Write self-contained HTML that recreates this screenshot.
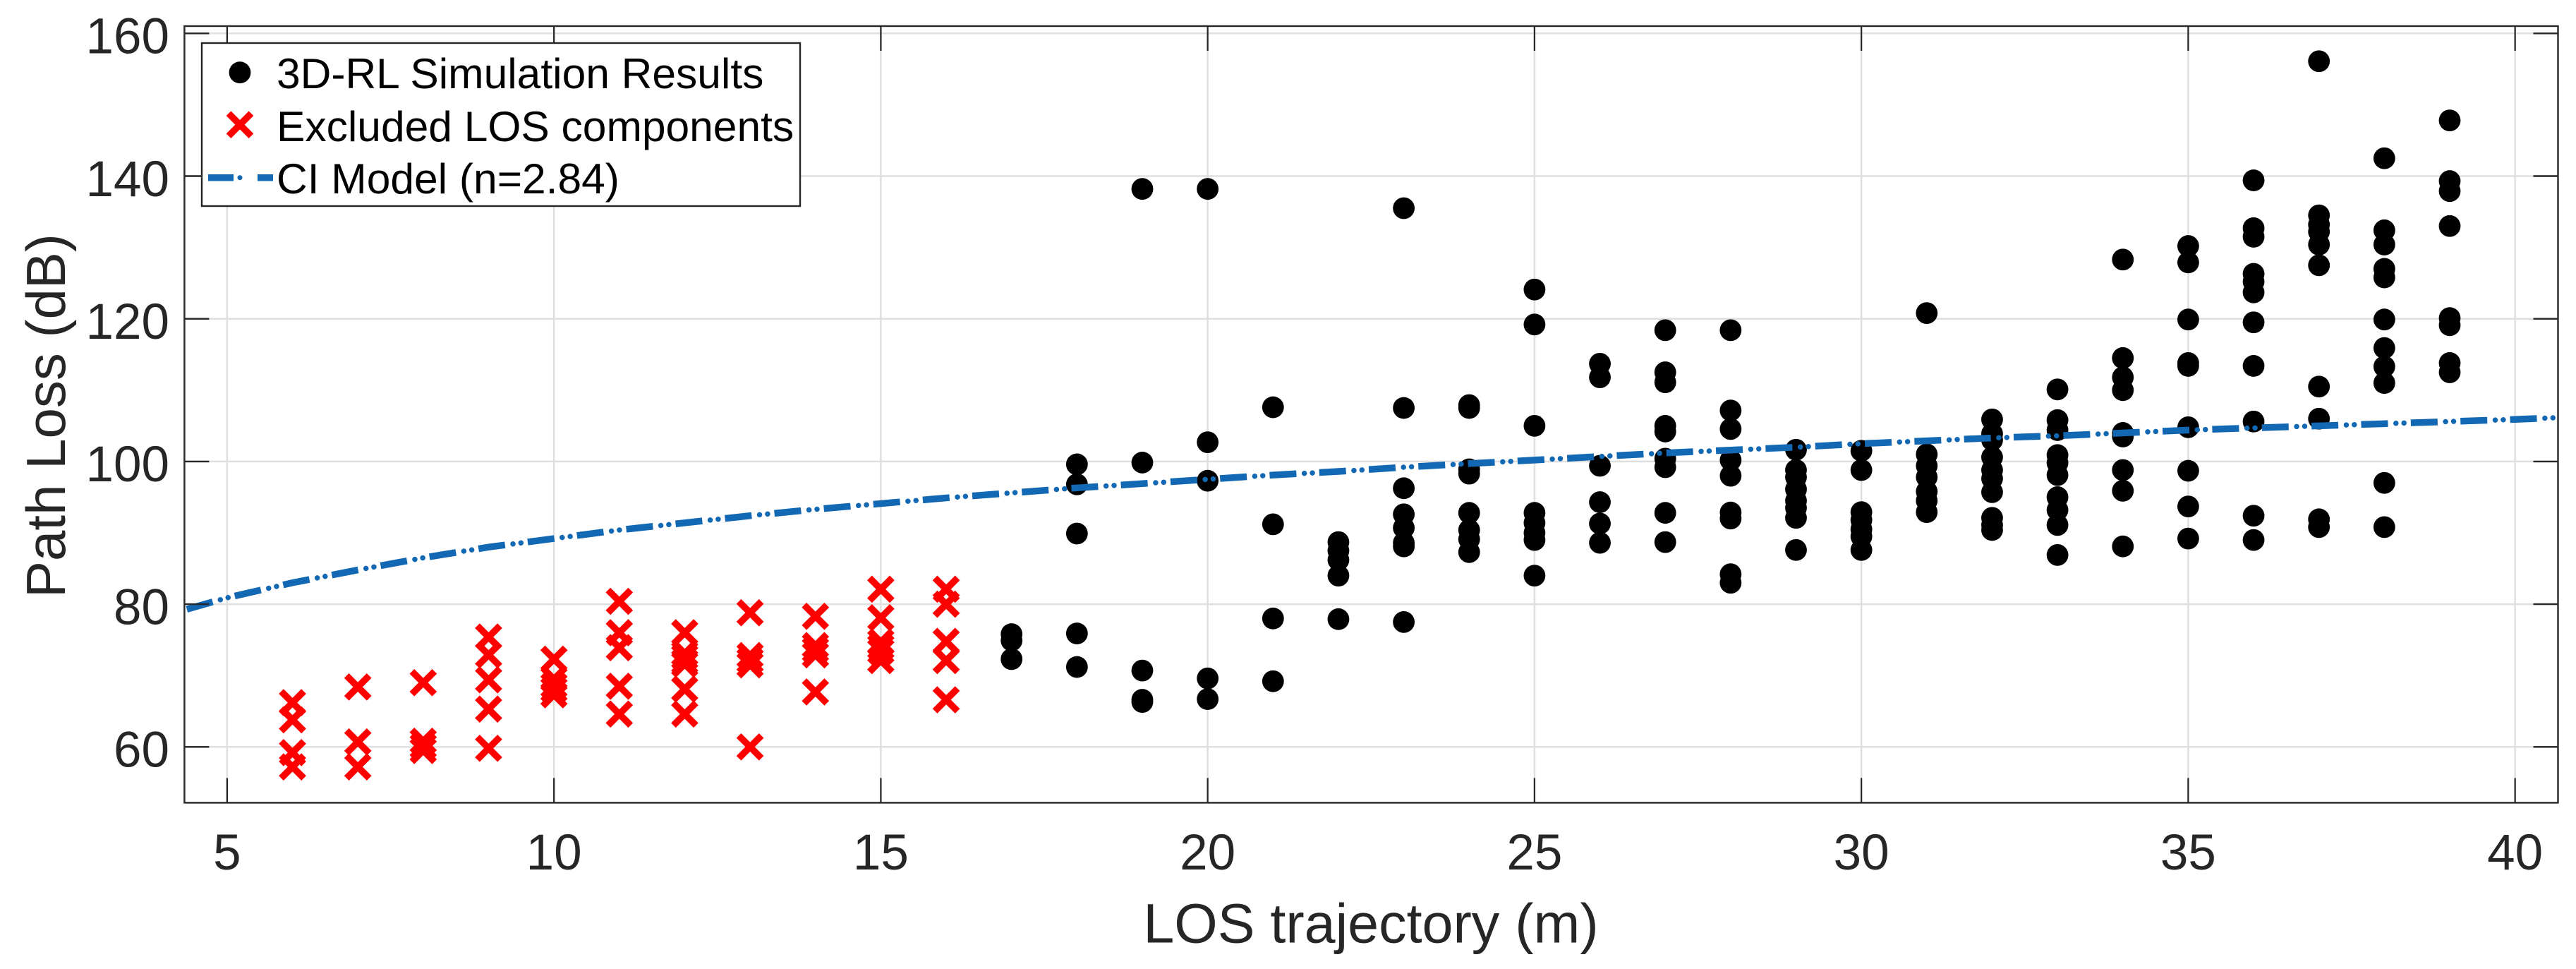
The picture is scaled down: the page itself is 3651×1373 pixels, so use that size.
<!DOCTYPE html>
<html lang="en">
<head>
<meta charset="utf-8">
<title>Path Loss vs LOS trajectory</title>
<style>
html,body{margin:0;padding:0;background:#fff;}
svg{display:block;font-family:"Liberation Sans",Arial,sans-serif;}
</style>
</head>
<body>
<svg id="chart" xmlns="http://www.w3.org/2000/svg" width="3651" height="1373" viewBox="0 0 3651 1373">
  <rect x="0" y="0" width="3651" height="1373" fill="#fff"/>
  <g id="grid"></g>
  <g id="results"></g>
  <g id="excluded"></g>
  <g id="model"></g>
  <g id="ticks"></g>
  <rect x="261.4" y="37" width="3364.1" height="1100.4" fill="none" stroke="#262626" stroke-width="2.4"/>
  <g id="tick-labels" fill="#262626" font-size="71"></g>
  <text x="1943" y="1335.5" text-anchor="middle" font-size="79" fill="#262626">LOS trajectory (m)</text>
  <text transform="translate(92,847) rotate(-90)" font-size="78" fill="#262626">Path Loss (dB)</text>

  <g>
    <rect x="286" y="61" width="848" height="231" fill="#fff" stroke="#262626" stroke-width="2.4"/>
    <g>
      <circle cx="340" cy="102.7" r="15.4" fill="#000"/>
      <text x="392" y="125" font-size="60.5" fill="#000">3D-RL Simulation Results</text>
    </g>
    <g>
      <path d="M324 160.7L356 192.7M356 160.7L324 192.7" stroke="#ff0000" stroke-width="9.5" fill="none"/>
      <text x="392" y="200" font-size="60.5" fill="#000">Excluded LOS components</text>
    </g>
    <g>
      <path d="M295 251.7H331M365 251.7H387" stroke="#1268b3" stroke-width="9.5" fill="none"/>
      <circle cx="340" cy="251.7" r="3.5" fill="#1268b3"/>
      <text x="392" y="274" font-size="60.5" fill="#000">CI Model (n=2.84)</text>
    </g>
  </g>
</svg>
<script>
const xTickLabels = [5, 10, 15, 20, 25, 30, 35, 40];
const yTickLabels = [60, 80, 100, 120, 140, 160];

const resultDistance = [
  17,17,17,
  18,18,18,18,18,
  19,19,19,19,19,
  20,20,20,20,20,
  21,21,21,21,
  22,22,22,22,22,
  23,23,23,23,23,23,23,23,
  24,24,24,24,24,24,24,24,
  25,25,25,25,25,25,25,25,
  26,26,26,26,26,26,
  27,27,27,27,27,27,27,27,27,
  28,28,28,28,28,28,28,28,28,
  29,29,29,29,29,29,29,29,
  30,30,30,30,30,30,30,
  31,31,31,31,31,31,31,
  32,32,32,32,32,32,32,32,32,32,
  33,33,33,33,33,33,33,33,33,33,
  34,34,34,34,34,34,34,34,34,
  35,35,35,35,35,35,35,35,35,
  36,36,36,36,36,36,36,36,36,36,36,
  37,37,37,37,37,37,37,37,37,37,
  38,38,38,38,38,38,38,38,38,38,38,
  39,39,39,39,39,39,39,39
];
const resultLoss = [
  75.8,74.9,72.3,
  99.6,96.8,89.9,75.9,71.2,
  138.2,99.85,70.7,66.6,66.3,
  138.2,102.7,97.3,69.6,66.7,
  107.6,91.2,78.0,69.2,
  88.7,87.5,86.2,84.0,77.9,
  135.5,107.5,96.25,92.6,90.7,88.6,88.1,77.5,
  107.9,107.5,98.9,98.3,92.8,90.4,89.1,87.3,
  124.1,119.2,105.0,92.8,91.4,90.0,89.0,84.0,
  113.7,111.8,99.4,94.3,91.3,88.6,
  118.4,112.5,111.1,105.0,104.2,100.4,99.2,92.8,88.7,
  118.4,107.15,104.55,100.2,98.0,92.85,92.0,84.2,83.0,
  101.65,98.8,97.8,96.1,94.5,93.5,92.1,87.6,
  101.5,98.8,92.9,91.8,90.5,89.5,87.6,
  120.8,101.0,99.4,97.8,95.8,94.5,92.9,
  105.9,103.9,100.6,98.8,97.6,95.7,92.1,91.1,90.4,103.0,
  110.1,105.8,104.4,100.9,99.8,98.1,95.0,93.2,91.1,86.9,
  128.3,114.5,111.8,110.0,104.0,103.5,98.8,95.9,88.1,
  130.2,127.9,119.9,113.8,113.4,104.8,98.7,93.7,89.2,
  139.4,132.7,131.5,126.3,125.2,123.7,119.5,113.4,105.6,92.4,89.0,
  156.1,134.5,133.2,132.2,130.4,127.5,110.5,106.0,91.9,90.8,
  142.5,132.4,130.4,127.0,125.8,119.9,115.9,113.3,111.0,97.0,90.8,
  147.8,139.3,137.9,133.0,120.1,119.1,113.8,112.5
];

const excludedDistance = [
  6,6,6,6,
  7,7,7,
  8,8,8,8,
  9,9,9,9,9,
  10,10,10,10,10,
  11,11,11,11,
  12,12,12,12,12,12,12,
  13,13,13,13,13,
  14,14,14,14,14,
  15,15,15,15,15,15,
  16,16,16,16,16
];
const excludedLoss = [
  66.2,63.8,59.2,57.2,
  68.4,60.7,57.2,
  69.0,60.8,60.1,59.5,
  75.4,72.9,69.4,65.3,59.8,
  72.3,69.5,68.6,68.0,67.3,
  80.4,76.0,73.9,68.5,
  76.0,73.1,72.6,71.95,71.6,68.1,64.6,
  78.8,72.8,72.1,71.5,60.0,
  78.3,74.2,73.6,72.9,67.7,
  82.1,78.1,74.7,74.0,73.4,72.1,
  82.1,80.0,74.8,72.1,66.6
];
excludedDistance.push(11);
excludedLoss.push(64.6);

const ciDistance = [4.35,5,6,7,8,9,10,11,12,13,14,15,16,17,18,19,20,21,22,23,24,25,26,27,28,29,30,31,32,33,34,35,36,37,38,39,40,40.66];
const ciLoss = [79.2,80.9,83.0,84.8,86.5,88.0,89.2,90.4,91.4,92.4,93.3,94.1,94.9,95.6,96.3,96.9,97.5,98.1,98.6,99.2,99.7,100.2,100.7,101.2,101.6,102.0,102.5,102.9,103.3,103.6,104.0,104.4,104.7,105.0,105.3,105.6,105.9,106.15];

const NS = 'http://www.w3.org/2000/svg';
const axisLeft = 261.4, axisRight = 3625.5, axisTop = 37, axisBottom = 1137.4;
function xScale(v){ return 321.9 + (v - 5) * 92.65; }
function yScale(v){ return 47.3 + (160 - v) * 10.11; }
function make(tag, parentId, props){
  const el = document.createElementNS(NS, tag);
  for (const k in props) el.setAttribute(k, props[k]);
  document.getElementById(parentId).appendChild(el);
  return el;
}

xTickLabels.forEach(function(t){
  const x = xScale(t);
  const g = make('line', 'grid', {x1:x, x2:x, y1:axisTop, y2:axisBottom, stroke:'#dfdfdf', 'stroke-width':2.5});
  
  
  const bt = make('line', 'ticks', {x1:x, x2:x, y1:axisBottom, y2:axisBottom-35, stroke:'#262626', 'stroke-width':2.2});
  
  
  const tt = make('line', 'ticks', {x1:x, x2:x, y1:axisTop, y2:axisTop+35, stroke:'#262626', 'stroke-width':2.2});
  
  
  const lbl = make('text', 'tick-labels', {x:x, y:1231.8, 'text-anchor':'middle'});
  lbl.textContent = t;
  
  
});

yTickLabels.forEach(function(t){
  const y = yScale(t);
  const g = make('line', 'grid', {x1:axisLeft, x2:axisRight, y1:y, y2:y, stroke:'#dfdfdf', 'stroke-width':2.5});
  
  
  const lt = make('line', 'ticks', {x1:axisLeft, x2:axisLeft+35, y1:y, y2:y, stroke:'#262626', 'stroke-width':2.4});
  
  
  const rt = make('line', 'ticks', {x1:axisRight, x2:axisRight-35, y1:y, y2:y, stroke:'#262626', 'stroke-width':2.4});
  
  
  const lbl = make('text', 'tick-labels', {x:240, y:y+28.3, 'text-anchor':'end'});
  lbl.textContent = t;
  
  
});

resultDistance.forEach(function(d, i){
  const c = make('circle', 'results', {cx:xScale(d), cy:yScale(resultLoss[i]), r:15.4, fill:'#000'});
  
  
});

excludedDistance.forEach(function(d, i){
  const x = xScale(d), y = yScale(excludedLoss[i]), h = 16;
  const m = make('path', 'excluded', {
    d:'M'+(x-h)+' '+(y-h)+'L'+(x+h)+' '+(y+h)+'M'+(x+h)+' '+(y-h)+'L'+(x-h)+' '+(y+h),
    stroke:'#ff0000', 'stroke-width':9.5, fill:'none'
  });
  
  
});

const ciPath = ciDistance.map(function(d, i){
  return (i ? 'L' : 'M') + xScale(d).toFixed(2) + ' ' + yScale(ciLoss[i]).toFixed(2);
}).join('');
const ciDash = make('path', 'model', {d:ciPath, fill:'none', stroke:'#1268b3', 'stroke-width':9.5});


const ciDots = make('path', 'model', {d:ciPath, fill:'none', stroke:'#1268b3', 'stroke-width':7.5, 'stroke-linecap':'round'});



const dashPeriod = 70.4;
const total = ciDash.getTotalLength();
let lo = 0, hi = total;
for (let i = 0; i < 40; i++) {
  const mid = (lo + hi) / 2;
  if (ciDash.getPointAtLength(mid).x < 1940) lo = mid; else hi = mid;
}
const phaseAt = lo;
const dashOffset = (dashPeriod - (phaseAt % dashPeriod)) % dashPeriod;
ciDash.setAttribute('stroke-dasharray', '38 ' + (dashPeriod - 38));
ciDash.setAttribute('stroke-dashoffset', dashOffset);
ciDots.setAttribute('stroke-dasharray', '0.01 11.4 0.01 ' + (dashPeriod - 11.42));
ciDots.setAttribute('stroke-dashoffset', (dashOffset - 49.3 + dashPeriod * 2) % dashPeriod);
</script>
</body>
</html>
